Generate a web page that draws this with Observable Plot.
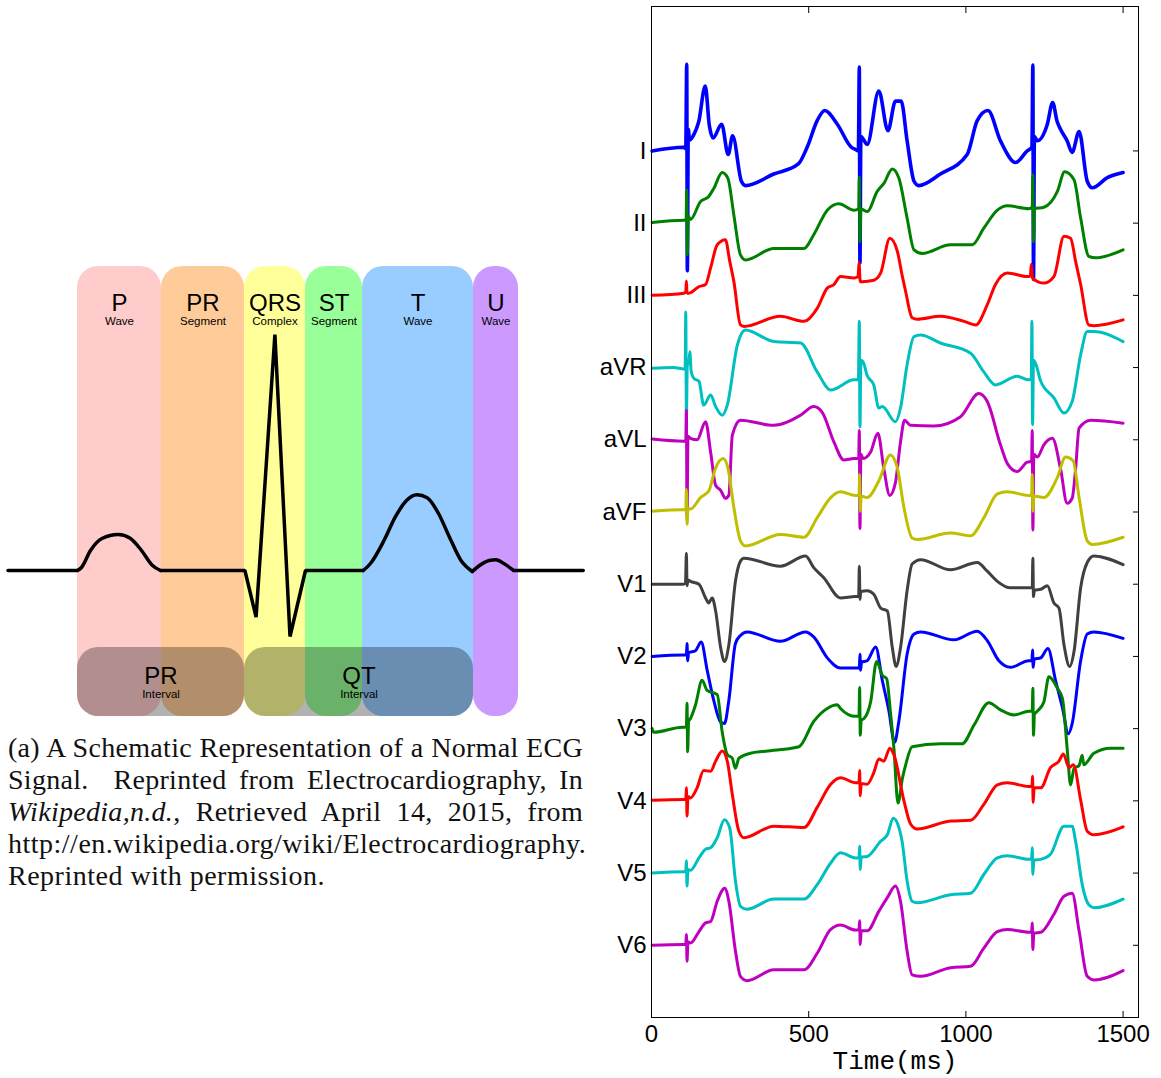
<!DOCTYPE html>
<html>
<head>
<meta charset="utf-8">
<script src="https://cdn.jsdelivr.net/npm/d3@7"></script>
<script src="https://cdn.jsdelivr.net/npm/@observablehq/plot@0.6"></script>
<style>
  html, body { margin: 0; padding: 0; background: #fff; }
  body { width: 1161px; height: 1078px; position: relative; overflow: hidden; }
  #schematic { position: absolute; left: 0; top: 260px; }
  #leads { position: absolute; left: 560px; top: 0; }
  #caption {
    position: absolute; left: 8px; top: 732px; width: 575px;
    font-family: "Liberation Serif", "Times New Roman", serif;
    font-size: 28px; line-height: 32px; color: #111;
  }
  #caption .j { text-align: justify; text-align-last: justify; word-spacing: -6px; letter-spacing: 0.3px; }
  #caption .n { white-space: nowrap; letter-spacing: 0.5px; }
</style>
</head>
<body>
<div id="schematic"></div>
<div id="caption">
  <div class="j">(a) A Schematic Representation of a Normal ECG</div>
  <div class="j">Signal.&nbsp; Reprinted from Electrocardiography, In</div>
  <div class="j"><i>Wikipedia,n.d.</i>, Retrieved April 14, 2015, from</div>
  <div class="n">http://en.wikipedia.org/wiki/Electrocardiography.</div>
  <div class="n">Reprinted with permission.</div>
</div>
<div id="leads"></div>
<script>
// ---------- Schematic of one normal beat ----------
// Wave/segment bands (schematic time units) and their labels
const bandEdges = [77, 161, 244, 305, 362, 473, 518];
const bandNames = ["P", "PR", "QRS", "ST", "T", "U"];
const bandSubs = ["Wave", "Segment", "Complex", "Segment", "Wave", "Wave"];
const bandFills = ["#ffcccc", "#ffcc99", "#ffff99", "#99ff99", "#99ccff", "#cc99ff"];
const bandSpan = [-146, 304];          // amplitude extent of the bands
const intervalNames = ["PR", "QT"];
const intervalStart = [77, 244];
const intervalEnd = [244, 473];
const intervalSpan = [-146, -77];
const labelLevels = [260, 246, -113, -127];   // title / subtitle rows, top and bottom

// Idealised ECG trace: time, amplitude (baseline = 0)
const traceFlat = [[7.5,0],[77,0]];
const traceP = [[77,0],[81,3],[90,20],[101.5,32],[117.7,36],[129.7,32.3],[141,20],[152,5],[160,0]];
const traceQRS = [[160,0],[244.4,0],[255.6,-46.7],[274.4,236],[289.5,-66],[305,0],[362.8,0]];
const traceT = [[362.8,0],[370,7],[383.5,30],[394.7,53.3],[406,70],[416.5,75.7],[426.7,72.7],[438,57],[449,33.3],[460.5,10],[471.8,-1]];
const traceU = [[471.8,-1],[479,5],[488.7,10],[495.5,10.7],[503.8,6.7],[513,0]];
const traceTail = [[513,0],[582.7,0]];

const bands = bandNames.map((name, i) => ({
  name, sub: bandSubs[i], fill: bandFills[i],
  x1: bandEdges[i], x2: bandEdges[i + 1], mid: (bandEdges[i] + bandEdges[i + 1]) / 2
}));
const intervals = intervalNames.map((name, i) => ({
  name, x1: intervalStart[i], x2: intervalEnd[i], mid: (intervalStart[i] + intervalEnd[i]) / 2
}));
const toPts = (arr) => arr.map(([t, a]) => ({t, a}));
const sans = "'Liberation Sans', Arial, Helvetica, sans-serif";
const ink = {stroke: "#000", strokeWidth: 3.5, strokeLinecap: "round"};

const schematic = Plot.plot({
  width: 590, height: 460, margin: 0,
  x: {domain: [0, 590], axis: null},
  y: {domain: [-150, 310], axis: null},
  style: {fontFamily: sans, background: "transparent"},
  marks: [
    Plot.rect(bands, {x1: "x1", x2: "x2", y1: () => bandSpan[0], y2: () => bandSpan[1], fill: "fill", rx: 21}),
    Plot.text(bands, {x: "mid", y: () => labelLevels[0], text: "name", fontSize: 24, lineAnchor: "bottom", fill: "#000"}),
    Plot.text(bands, {x: "mid", y: () => labelLevels[1], text: "sub", fontSize: 11.5, lineAnchor: "bottom", fill: "#000"}),
    Plot.line(toPts(traceFlat), {x: "t", y: "a", ...ink}),
    Plot.line(toPts(traceP), {x: "t", y: "a", ...ink, curve: "monotone-x"}),
    Plot.line(toPts(traceQRS), {x: "t", y: "a", ...ink, strokeLinejoin: "miter"}),
    Plot.line(toPts(traceT), {x: "t", y: "a", ...ink, curve: "monotone-x"}),
    Plot.line(toPts(traceU), {x: "t", y: "a", ...ink, curve: "monotone-x"}),
    Plot.line(toPts(traceTail), {x: "t", y: "a", ...ink}),
    Plot.rect(intervals, {x1: "x1", x2: "x2", y1: () => intervalSpan[0], y2: () => intervalSpan[1], fill: "#000", fillOpacity: 0.3, rx: 21}),
    Plot.text(intervals, {x: "mid", y: () => labelLevels[2], text: "name", fontSize: 24, lineAnchor: "bottom", fill: "#000"}),
    Plot.text(intervals, {x: "mid", y: () => labelLevels[3], text: () => "Interval", fontSize: 11.5, lineAnchor: "bottom", fill: "#000"})
  ]
});
document.getElementById("schematic").append(schematic);

// ---------- 12-lead recording ----------
const leadNames = ["I", "II", "III", "aVR", "aVL", "aVF", "V1", "V2", "V3", "V4", "V5", "V6"];
const leadColors = ["#0000ff", "#008000", "#ff0000", "#00bfbf", "#bf00bf", "#bfbf00",
                    "#404040", "#0000ff", "#008000", "#ff0000", "#00bfbf", "#bf00bf"];
const leadWidths = [3.6, 3, 3, 3, 3, 3, 3, 3, 3, 3, 3, 3];
const timeTicks = [0, 500, 1000, 1500];

// Samples per lead: [time (ms), amplitude in lead-spacing units]
const leadI = [[2,0],[103,0.05],[109,0.03],[112,1.2],[114,-1.66],[117,0.3],[121,0.15],[135,0.23],[150,0.4],[171,0.9],[184,0.35],[196,0.18],[223,0.37],[244,-0.05],[258,0.21],[286,-0.42],[299,-0.48],[389,-0.32],[467,-0.18],[495,0.05],[527,0.42],[551,0.56],[591,0.37],[636,0.05],[649,0.02],[658,0],[661,1.16],[663,-1.55],[666,0.2],[686,0.09],[723,0.83],[752,0.28],[776,0.69],[794,0.69],[813,0.14],[835,-0.42],[850,-0.48],[919,-0.32],[1004,-0.05],[1036,0.42],[1070,0.56],[1110,0.14],[1158,-0.16],[1195,0],[1210,0.05],[1213,1.19],[1215,-1.78],[1218,0.2],[1227,0.14],[1259,0.37],[1276,0.67],[1290,0.41],[1301,0.3],[1322,0.14],[1338,-0.02],[1360,0.27],[1386,-0.42],[1402,-0.51],[1450,-0.37],[1500,-0.3]];
const leadII = [[2,0.01],[103,0.04],[110,0.04],[112,0.46],[114,-0.44],[117,0.1],[124,0.05],[156,0.3],[182,0.37],[198,0.48],[225,0.7],[243,0.62],[262,0.11],[283,-0.44],[299,-0.51],[389,-0.35],[485,-0.35],[516,-0.16],[559,0.18],[596,0.27],[644,0.18],[659,0.2],[661,0.64],[663,-0.26],[666,0.2],[686,0.16],[718,0.44],[739,0.55],[766,0.75],[787,0.62],[813,0.07],[835,-0.37],[861,-0.42],[951,-0.3],[1020,-0.3],[1057,-0.07],[1100,0.18],[1132,0.24],[1200,0.2],[1211,0.22],[1213,0.67],[1215,-0.26],[1218,0.2],[1248,0.22],[1291,0.44],[1314,0.71],[1344,0.6],[1365,0.07],[1391,-0.46],[1413,-0.48],[1500,-0.37]];
const leadIII = [[2,0],[103,0.03],[109,0.05],[111,0.2],[113,0.03],[119,0.03],[151,0.12],[172,0.15],[188,0.38],[209,0.7],[235,0.77],[249,0.47],[262,0.19],[283,-0.41],[294,-0.43],[410,-0.29],[485,-0.36],[527,-0.18],[559,0.1],[580,0.15],[601,0.26],[644,0.24],[657,0.26],[660,0.45],[664,0.19],[670,0.19],[707,0.21],[729,0.31],[758,0.79],[782,0.61],[797,0.28],[808,0.06],[829,-0.31],[845,-0.33],[919,-0.29],[994,-0.36],[1031,-0.41],[1068,-0.13],[1094,0.15],[1132,0.31],[1195,0.26],[1205,0.27],[1208,0.43],[1212,0.24],[1248,0.17],[1280,0.26],[1312,0.82],[1333,0.79],[1349,0.47],[1365,0.15],[1391,-0.41],[1407,-0.42],[1500,-0.34]];
const leadAVR = [[2,-0.01],[71,0],[103,-0.02],[107,-0.02],[109,0.77],[111,-0.7],[114,0.1],[118,0.05],[122,0.22],[126,-0.05],[135,-0.15],[151,-0.19],[166,-0.52],[188,-0.38],[204,-0.54],[225,-0.66],[241,-0.52],[273,0.31],[299,0.52],[389,0.36],[474,0.34],[527,-0.06],[570,-0.31],[644,-0.17],[658,-0.17],[661,0.64],[663,-0.82],[666,0.1],[673,0.08],[686,-0.11],[707,-0.24],[723,-0.56],[734,-0.54],[776,-0.75],[792,-0.56],[813,0.04],[835,0.43],[856,0.45],[919,0.34],[1015,0.2],[1057,-0.06],[1094,-0.24],[1163,-0.12],[1200,-0.17],[1208,-0.15],[1210,0.64],[1212,-0.79],[1215,0.1],[1223,0.04],[1238,-0.19],[1280,-0.42],[1312,-0.63],[1338,-0.47],[1365,0.18],[1386,0.5],[1407,0.5],[1500,0.36]];
const leadAVL = [[2,0.01],[103,-0.02],[109,-0.02],[111,0.41],[113,-1.1],[116,0.05],[124,0.02],[145,0],[172,0.25],[188,-0.17],[204,-0.63],[220,-0.7],[235,-0.81],[246,-0.77],[257,0.06],[283,0.27],[389,0.2],[474,0.34],[516,0.46],[543,0.38],[580,-0.03],[612,-0.28],[644,-0.26],[659,-0.26],[661,0.13],[663,-1.23],[666,-0.2],[673,-0.26],[697,-0.17],[720,0.09],[739,-0.4],[758,-0.77],[776,-0.59],[792,-0.03],[805,0.27],[824,0.2],[898,0.19],[983,0.32],[1041,0.64],[1068,0.53],[1110,-0.07],[1132,-0.33],[1163,-0.44],[1195,-0.31],[1209,-0.3],[1211,0.13],[1213,-1.25],[1216,-0.2],[1227,-0.24],[1248,-0.07],[1275,0.02],[1301,-0.4],[1322,-0.88],[1338,-0.81],[1349,-0.4],[1360,0.16],[1397,0.27],[1500,0.23]];
const leadAVF = [[2,0.01],[103,0.03],[109,0.03],[111,0.31],[113,-0.17],[116,0.05],[124,0.04],[156,0.2],[182,0.29],[204,0.61],[228,0.74],[243,0.61],[262,0.06],[283,-0.4],[299,-0.47],[410,-0.31],[485,-0.35],[527,-0.08],[570,0.2],[601,0.28],[649,0.23],[660,0.23],[662,0.52],[664,0.01],[667,0.22],[686,0.2],[723,0.43],[760,0.79],[782,0.61],[803,0.06],[829,-0.36],[845,-0.38],[951,-0.29],[1015,-0.33],[1057,-0.08],[1100,0.25],[1132,0.28],[1200,0.23],[1209,0.23],[1211,0.52],[1213,0.01],[1216,0.22],[1248,0.2],[1291,0.48],[1317,0.76],[1341,0.71],[1360,0.2],[1386,-0.4],[1402,-0.45],[1500,-0.35]];
const leadV1 = [[2,0],[98,0],[108,0.01],[111,0.43],[113,-0.02],[116,0.06],[124,0.04],[151,0],[172,-0.19],[182,-0.26],[193,-0.19],[204,-0.37],[220,-0.88],[232,-1.07],[246,-0.84],[267,0.04],[283,0.32],[294,0.36],[410,0.25],[490,0.39],[516,0.23],[548,0.09],[601,-0.19],[649,-0.17],[659,-0.17],[661,0.25],[663,-0.21],[666,-0.1],[686,-0.09],[707,-0.14],[729,-0.33],[750,-0.37],[766,-0.88],[778,-1.14],[792,-0.88],[813,-0.09],[829,0.28],[856,0.34],[951,0.2],[1036,0.3],[1068,0.18],[1100,0.04],[1142,-0.05],[1200,-0.05],[1211,-0.05],[1213,0.36],[1215,-0.17],[1218,-0.08],[1238,-0.07],[1259,-0.02],[1280,-0.26],[1296,-0.33],[1312,-0.84],[1330,-1.14],[1344,-0.93],[1365,-0.05],[1386,0.3],[1407,0.39],[1500,0.27]];
const leadV2 = [[2,0],[103,0.02],[111,0.02],[113,0.18],[115,-0.06],[118,0.05],[140,0.08],[158,0.2],[177,-0.19],[198,-0.61],[220,-0.91],[232,-0.93],[246,-0.61],[267,0.18],[283,0.29],[304,0.34],[410,0.21],[490,0.34],[516,0.27],[559,-0.02],[601,-0.16],[649,-0.16],[661,-0.16],[663,0.03],[665,-0.19],[668,-0.08],[686,-0.06],[713,0.13],[734,-0.33],[755,-0.75],[773,-1.19],[787,-0.89],[813,0.03],[835,0.31],[856,0.34],[962,0.23],[1036,0.35],[1068,0.22],[1105,-0.06],[1142,-0.15],[1200,-0.06],[1210,-0.06],[1212,0.09],[1214,-0.15],[1217,-0.04],[1238,-0.02],[1261,0.11],[1285,-0.33],[1307,-0.71],[1326,-1.07],[1338,-0.93],[1365,-0.06],[1386,0.31],[1407,0.34],[1500,0.25]];
const leadV3 = [[2,0],[7,-0.05],[98,0.02],[111,0.02],[113,0.35],[115,-0.32],[118,0.1],[124,0.14],[140,0.33],[161,0.67],[177,0.53],[209,0.47],[225,-0.05],[241,-0.36],[257,-0.41],[267,-0.55],[278,-0.41],[315,-0.34],[389,-0.3],[469,-0.25],[516,0.1],[559,0.28],[591,0.33],[601,0.28],[649,0.17],[660,0.17],[662,0.57],[664,-0.09],[667,0.12],[676,0.14],[697,0.37],[716,0.93],[734,0.74],[748,0.69],[760,0.23],[771,-0.27],[784,-1.03],[798,-0.69],[808,-0.51],[829,-0.25],[919,-0.21],[988,-0.21],[1026,0.05],[1073,0.36],[1110,0.26],[1153,0.19],[1200,0.24],[1211,0.24],[1213,0.56],[1215,-0.09],[1218,0.2],[1227,0.24],[1248,0.37],[1264,0.72],[1291,0.56],[1307,0.42],[1322,-0.27],[1333,-0.78],[1344,-0.55],[1360,-0.51],[1370,-0.37],[1375,-0.5],[1407,-0.34],[1460,-0.27],[1500,-0.27]];
const leadV4 = [[2,0.01],[103,0.02],[109,0.02],[111,0.18],[113,-0.21],[116,0.06],[124,0.04],[145,0.18],[166,0.42],[188,0.41],[204,0.55],[225,0.69],[241,0.55],[257,0.09],[278,-0.42],[294,-0.51],[389,-0.35],[485,-0.37],[527,-0.09],[570,0.23],[601,0.32],[649,0.25],[660,0.25],[662,0.42],[664,0.07],[667,0.24],[686,0.23],[707,0.39],[723,0.58],[739,0.55],[758,0.73],[771,0.64],[803,0],[824,-0.32],[845,-0.39],[951,-0.28],[1015,-0.27],[1057,-0.05],[1100,0.22],[1132,0.25],[1200,0.2],[1210,0.2],[1212,0.34],[1214,-0.02],[1217,0.18],[1238,0.18],[1269,0.46],[1296,0.55],[1310,0.65],[1328,0.46],[1342,0.5],[1365,0.01],[1386,-0.42],[1407,-0.47],[1500,-0.36]];
const leadV5 = [[2,0],[103,0.02],[109,0.02],[111,0.17],[113,-0.18],[116,0.05],[124,0.04],[151,0.21],[172,0.33],[188,0.35],[209,0.49],[232,0.74],[249,0.62],[267,-0.11],[283,-0.46],[304,-0.5],[389,-0.36],[485,-0.36],[527,-0.16],[570,0.14],[601,0.28],[649,0.21],[660,0.21],[662,0.37],[664,0.05],[667,0.22],[686,0.23],[729,0.44],[750,0.53],[769,0.76],[787,0.63],[797,0.44],[813,-0.11],[829,-0.39],[845,-0.41],[951,-0.3],[1015,-0.28],[1057,-0.02],[1100,0.21],[1132,0.24],[1200,0.19],[1209,0.19],[1211,0.35],[1213,-0.02],[1216,0.18],[1238,0.19],[1269,0.26],[1312,0.65],[1338,0.65],[1349,0.44],[1370,-0.16],[1391,-0.44],[1407,-0.48],[1500,-0.36]];
const leadV6 = [[2,0],[103,0.01],[109,0.01],[111,0.15],[113,-0.22],[116,0.05],[124,0.03],[151,0.19],[172,0.31],[188,0.33],[209,0.61],[233,0.79],[246,0.61],[267,-0.08],[283,-0.43],[304,-0.49],[389,-0.34],[485,-0.34],[527,-0.11],[570,0.22],[601,0.28],[649,0.21],[660,0.21],[662,0.34],[664,0.01],[667,0.2],[686,0.2],[723,0.47],[750,0.66],[776,0.82],[792,0.61],[813,-0.08],[829,-0.41],[856,-0.43],[951,-0.31],[1015,-0.29],[1057,-0.04],[1100,0.19],[1132,0.22],[1200,0.18],[1209,0.18],[1211,0.31],[1213,-0.06],[1216,0.17],[1238,0.18],[1280,0.43],[1312,0.68],[1338,0.72],[1360,0.2],[1386,-0.43],[1407,-0.48],[1500,-0.35]];

const leadSamples = [leadI, leadII, leadIII, leadAVR, leadAVL, leadAVF, leadV1, leadV2, leadV3, leadV4, leadV5, leadV6];
const leadRows = leadNames.map((_, i) => i);

// Each lead is stacked one unit below the previous one
const traces = leadSamples.map((pts, i) =>
  pts.map(([t, v]) => ({lead: leadNames[i], t, offset: i - v})));

const ecg = Plot.plot({
  width: 600, height: 1078,
  marginLeft: 91, marginRight: 22, marginTop: 6, marginBottom: 61,
  x: {domain: [0, 1549], label: null},
  y: {domain: [12, -2], label: null},
  style: {fontFamily: sans, fontSize: "24px", color: "#000", background: "transparent"},
  marks: [
    ...traces.map((rows, i) => Plot.line(rows, {
      x: "t", y: "offset", stroke: leadColors[i], strokeWidth: leadWidths[i],
      strokeLinejoin: "round", curve: "monotone-x"
    })),
    Plot.axisY(leadRows, {anchor: "right", tickSize: -6, tickFormat: () => "", label: null}),
    Plot.axisY(leadRows, {anchor: "left", tickSize: 0, tickPadding: 5, tickFormat: (i) => leadNames[i], fontSize: 24, label: null}),
    Plot.axisX(timeTicks.slice(1), {anchor: "bottom", tickSize: -6, tickFormat: () => "", label: null}),
    Plot.axisX(timeTicks.slice(1), {anchor: "top", tickSize: -6, tickFormat: () => "", label: null}),
    Plot.axisX(timeTicks, {anchor: "bottom", tickSize: 0, tickPadding: 7, tickFormat: (d) => String(d), fontSize: 24, label: null}),
    Plot.text(["Time(ms)"], {text: (d) => d, frameAnchor: "bottom", dy: 51,
      fontFamily: "'Liberation Mono', 'Courier New', monospace", fontSize: 26, fill: "#000"}),
    Plot.frame({stroke: "#000", strokeWidth: 1})
  ]
});
document.getElementById("leads").append(ecg);
</script>
</body>
</html>
